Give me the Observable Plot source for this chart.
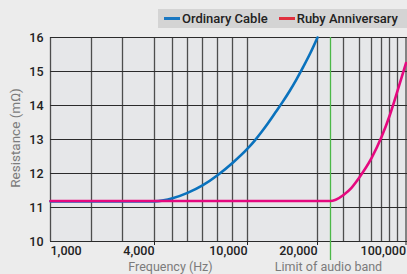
<!DOCTYPE html>
<html><head><meta charset="utf-8">
<script src="https://cdn.jsdelivr.net/npm/d3@7"></script>
<script src="https://cdn.jsdelivr.net/npm/@observablehq/plot@0.6"></script>
<style>
html,body{margin:0;padding:0;background:#ececec;overflow:hidden;width:407px;height:274px;}
#legend{position:relative;height:30px;font-family:Roboto,sans-serif;}
#legend .box{position:absolute;left:158px;top:9px;width:260px;height:19px;background:#d4d4d4;display:flex;align-items:center;font-size:13px;font-weight:500;color:#222;white-space:nowrap;}
#legend .sw{display:inline-block;width:16px;height:3.5px;margin-right:2px;}
#chart svg{display:block;}
</style></head><body>
<div id="legend"><div class="box"></div></div>
<div id="chart"></div>
<script>
// ---- data ----
const yTicks = [10, 11, 12, 13, 14, 15, 16];
const gridFreqs = [1000, 2000, 3000, 4000, 5000, 6000, 7000, 8000, 9000, 10000,
                   20000, 30000, 40000, 50000, 60000, 70000, 80000, 100000];
const labeledFreqs = [4000, 10000, 20000, 100000];
const firstFreq = [1000];
const audioLimit = 25000;
const seriesNames = ["Ordinary Cable", "Ruby Anniversary"];
const legendColors = ["#1a78c2", "#e0303e"];
const lineColors = ["#0a72bd", "#e5097f"];

const ordinaryFreq = [1000, 2000, 3000, 4000, 4500, 5000, 6000, 7000, 8000, 9000, 10000,
                      11000, 12000, 13000, 14000, 15000, 16000, 17000, 18000, 19000, 20000];
const ordinaryRes  = [11.18, 11.18, 11.18, 11.18, 11.21, 11.27, 11.43, 11.65, 11.95, 12.31, 12.73,
                      12.96, 13.22, 13.5, 13.8, 14.1, 14.42, 14.77, 15.15, 15.55, 16.0];

const rubyFreq = [1000, 4000, 10000, 20000, 25000, 27000, 30000, 35000, 40000, 50000,
                  60000, 70000, 80000, 100000];
const rubyRes  = [11.19, 11.19, 11.19, 11.19, 11.19, 11.23, 11.37, 11.58, 11.89, 12.45,
                  13.07, 13.69, 14.43, 15.25];

// ---- legend ----
const box = document.querySelector("#legend .box");
seriesNames.forEach((name, i) => {
  const sw = document.createElement("span");
  sw.className = "sw";
  sw.style.background = legendColors[i];
  sw.style.marginLeft = i === 0 ? "6px" : "11px";
  box.appendChild(sw);
  const t = document.createElement("span");
  t.textContent = name;
  box.appendChild(t);
});

// ---- chart ----
const ordinary = ordinaryFreq.map((f, i) => ({f, r: ordinaryRes[i]}));
const ruby = rubyFreq.map((f, i) => ({f, r: rubyRes[i]}));
const fmt = d3.format(",");

const chart = Plot.plot({
  width: 407, height: 244,
  marginLeft: 50, marginRight: 0, marginTop: 7, marginBottom: 33,
  style: {background: "transparent", fontFamily: "Roboto, sans-serif", fontSize: "12.5px", color: "#222"},
  x: {type: "linear", domain: gridFreqs,
      range: [50, 91, 122, 154, 172, 187, 202, 217, 232, 247, 317, 343, 359, 371, 381, 389, 397, 405.5]},
  y: {domain: [10, 16]},
  marks: [
    Plot.frame({fill: "#e6e7e9", stroke: null}),
    Plot.ruleX(gridFreqs, {stroke: "#4d4d4d", strokeWidth: 1.3}),
    Plot.ruleY(yTicks, {stroke: "#2b2b2b", strokeWidth: 1.2}),
    Plot.ruleX([audioLimit], {stroke: "#4cb848", strokeWidth: 1.3, insetBottom: -19}),
    Plot.line(ordinary, {x: "f", y: "r", stroke: lineColors[0], strokeWidth: 2.6, curve: "monotone-x"}),
    Plot.line(ruby, {x: "f", y: "r", stroke: lineColors[1], strokeWidth: 2.6, curve: "monotone-x"}),
    Plot.axisY(yTicks, {tickSize: 0, tickPadding: 7, label: null, fontWeight: 500}),
    Plot.axisX(labeledFreqs, {tickSize: 4, tickPadding: 1, textAnchor: "end", tickFormat: fmt, label: null, fontWeight: 500, stroke: "#222"}),
    Plot.axisX(firstFreq, {tickSize: 0, tickPadding: 5, textAnchor: "start", tickFormat: fmt, label: null, fontWeight: 500}),
    Plot.text(["Frequency (Hz)"], {frameAnchor: "bottom-left", lineAnchor: "middle", dx: 120, dy: 25, textAnchor: "middle", fill: "#7b7b7b", fontSize: 12.5}),
    Plot.text([audioLimit], {x: d => d, text: () => "Limit of audio band", frameAnchor: "bottom", lineAnchor: "middle", dx: -2, dy: 25, textAnchor: "middle", fill: "#7b7b7b", fontSize: 12.5}),
    Plot.text(["Resistance (mΩ)"], {frameAnchor: "left", dx: -35, dy: -1.5, rotate: -90, textAnchor: "middle", fill: "#7b7b7b", fontSize: 13.5})
  ]
});
document.getElementById("chart").appendChild(chart);
</script>
</body></html>
